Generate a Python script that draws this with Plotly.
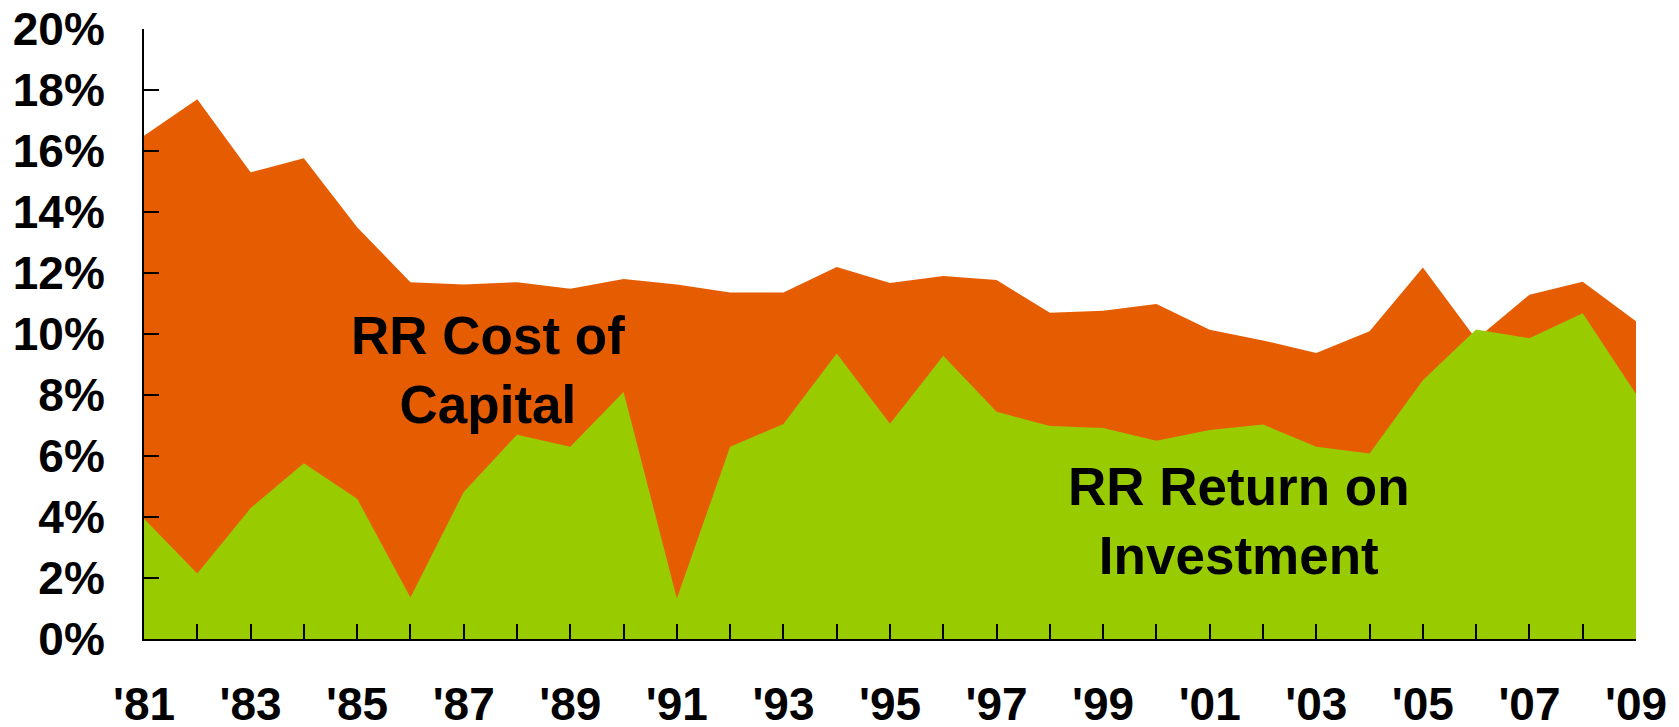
"""Railroad cost of capital vs. return on investment, 1981-2009."""

import plotly.graph_objects as go

ORANGE = "#E65C00"
GREEN = "#99CC00"
FONT = "Arial, Liberation Sans, sans-serif"

years = list(range(1981, 2010))
cost_of_capital = [
    16.5, 17.7, 15.3, 15.76, 13.5, 11.7, 11.62, 11.7, 11.48, 11.8,
    11.62, 11.36, 11.36, 12.2, 11.67, 11.9, 11.77, 10.7, 10.76, 10.98,
    10.14, 9.79, 9.38, 10.09, 12.18, 9.83, 11.29, 11.71, 10.42,
]
return_on_investment = [
    3.94, 2.15, 4.29, 5.76, 4.6, 1.36, 4.82, 6.7, 6.3, 8.1,
    1.33, 6.3, 7.05, 9.36, 7.06, 9.29, 7.45, 6.98, 6.92, 6.5,
    6.85, 7.03, 6.3, 6.08, 8.48, 10.15, 9.86, 10.68, 8.03,
]
year_labels = [
    "'81", "", "'83", "", "'85", "", "'87", "", "'89", "",
    "'91", "", "'93", "", "'95", "", "'97", "", "'99", "",
    "'01", "", "'03", "", "'05", "", "'07", "", "'09",
]
pct_ticks = [0, 2, 4, 6, 8, 10, 12, 14, 16, 18, 20]
pct_labels = ["0%", "2%", "4%", "6%", "8%", "10%", "12%", "14%", "16%", "18%", "20%"]

fig = go.Figure()
fig.add_trace(go.Scatter(
    x=years, y=cost_of_capital, mode="lines", fill="tozeroy",
    fillcolor=ORANGE, line=dict(width=0, color=ORANGE),
    name="RR Cost of Capital",
))
fig.add_trace(go.Scatter(
    x=years, y=return_on_investment, mode="lines", fill="tozeroy",
    fillcolor=GREEN, line=dict(width=0, color=GREEN),
    name="RR Return on Investment",
))

label_font = dict(family=FONT, size=53, color="black", weight="bold")
fig.add_annotation(
    x=1987.45, y=8.82, text="RR Cost of<br>Capital", showarrow=False,
    font=label_font, align="center", xanchor="center", yanchor="middle",
)
fig.add_annotation(
    x=2001.55, y=3.87, text="RR Return on<br>Investment", showarrow=False,
    font=label_font, align="center", xanchor="center", yanchor="middle",
)

# the page body keeps its default 8px margin, so the figure is 8px smaller
fig.update_layout(
    width=1671,
    height=719,
    margin=dict(l=136, r=43, t=21, b=88),
    paper_bgcolor="white",
    plot_bgcolor="white",
    showlegend=False,
    font=dict(family=FONT, color="black", weight="bold"),
)
fig.update_xaxes(
    range=[1981, 2009],
    tickvals=years,
    ticktext=year_labels,
    ticks="inside",
    ticklen=15,
    tickwidth=2,
    tickcolor="black",
    showline=True,
    linecolor="black",
    linewidth=2,
    showgrid=False,
    zeroline=False,
    automargin=False,
    ticklabeloverflow="allow",
    tickfont=dict(family=FONT, size=46, color="black", weight="bold"),
    ticklabelstandoff=24,
)
fig.update_yaxes(
    range=[0, 20],
    tickvals=pct_ticks,
    ticktext=pct_labels,
    ticks="inside",
    ticklen=15,
    tickwidth=2,
    tickcolor="black",
    showline=True,
    linecolor="black",
    linewidth=2,
    showgrid=False,
    zeroline=False,
    automargin=False,
    ticklabeloverflow="allow",
    tickfont=dict(family=FONT, size=46, color="black", weight="bold"),
    ticklabelstandoff=28,
)

fig.write_html("out.html")
